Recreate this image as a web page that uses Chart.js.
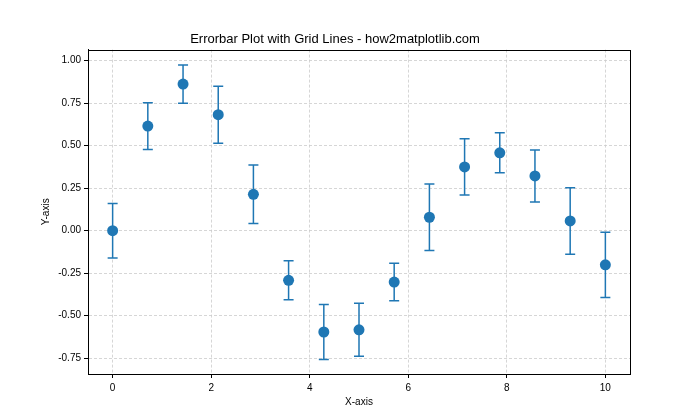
<!DOCTYPE html>
<html>
<head>
<meta charset="utf-8">
<script src="https://cdn.jsdelivr.net/npm/chart.js@4.4.1/dist/chart.umd.min.js"></script>
<style>
  html, body { margin: 0; padding: 0; background: #fff; }
  #wrap { width: 700px; height: 420px; }
</style>
</head>
<body>
<div id="wrap"><canvas id="c" width="700" height="420"></canvas></div>
<script>
// ---- data ----
const xValues = [0, 0.714, 1.429, 2.143, 2.857, 3.571, 4.286, 5.0, 5.714, 6.429, 7.143, 7.857, 8.571, 9.286, 10];
const yValues = [0.00, 0.615, 0.862, 0.682, 0.214, -0.292, -0.596, -0.583, -0.302, 0.079, 0.375, 0.458, 0.322, 0.057, -0.201];
const yErrors = [0.160, 0.138, 0.112, 0.168, 0.172, 0.115, 0.162, 0.156, 0.110, 0.196, 0.165, 0.118, 0.153, 0.195, 0.192];
const xTicks = [0, 2, 4, 6, 8, 10];
const yTicks = [-0.75, -0.50, -0.25, 0.00, 0.25, 0.50, 0.75, 1.00];

const BLUE = '#1f77b4';
const FONT = 'Liberation Sans';

const errorBarPlugin = {
  id: 'errorBars',
  beforeDatasetsDraw(chart) {
    const ctx = chart.ctx;
    const xs = chart.scales.x, ys = chart.scales.y;
    ctx.save();
    ctx.strokeStyle = BLUE;
    ctx.lineWidth = 1.5;
    xValues.forEach((xv, i) => {
      const px = xs.getPixelForValue(xv);
      const top = ys.getPixelForValue(yValues[i] + yErrors[i]);
      const bot = ys.getPixelForValue(yValues[i] - yErrors[i]);
      ctx.beginPath();
      ctx.moveTo(px, top); ctx.lineTo(px, bot);
      ctx.moveTo(px - 5, top); ctx.lineTo(px + 5, top);
      ctx.moveTo(px - 5, bot); ctx.lineTo(px + 5, bot);
      ctx.stroke();
    });
    ctx.restore();
  }
};

const framePlugin = {
  id: 'frame',
  afterDraw(chart) {
    const a = chart.chartArea, ctx = chart.ctx;
    ctx.save();
    ctx.strokeStyle = '#000';
    ctx.lineWidth = 1;
    ctx.strokeRect(Math.round(a.left) + 0.5, Math.round(a.top) + 0.5, Math.round(a.right - a.left), Math.round(a.bottom - a.top));
    ctx.restore();
  }
};

new Chart(document.getElementById('c'), {
  type: 'scatter',
  data: {
    datasets: [{
      data: xValues.map((x, i) => ({ x: x, y: yValues[i] })),
      backgroundColor: BLUE,
      borderColor: BLUE,
      pointRadius: 5.5,
      pointHoverRadius: 5.5,
      borderWidth: 0
    }]
  },
  options: {
    responsive: false,
    animation: false,
    layout: { padding: { left: 40, right: 70, top: 0, bottom: 12 } },
    plugins: {
      legend: { display: false },
      tooltip: { enabled: false },
      title: {
        display: true,
        text: 'Errorbar Plot with Grid Lines - how2matplotlib.com',
        color: '#000',
        font: { family: FONT, size: 13, weight: 'normal' },
        padding: { top: 32, bottom: 2 }
      }
    },
    scales: {
      x: {
        type: 'linear',
        min: -0.5,
        max: 10.5,
        afterBuildTicks: s => { s.ticks = xTicks.map(v => ({ value: v })); },
        afterFit: s => { s.height = 34; },
        ticks: { color: '#000', font: { family: FONT, size: 10 }, padding: 4, callback: v => String(v) },
        grid: { color: '#cbcbcb', lineWidth: 0.8, tickColor: '#000', tickLength: 4, tickWidth: 1 },
        border: { display: true, color: '#000', width: 1, dash: [3, 2] },
        title: { display: true, text: 'X-axis', color: '#000', font: { family: FONT, size: 10 }, padding: { top: 2, bottom: 0 } }
      },
      y: {
        type: 'linear',
        min: -0.843,
        max: 1.065,
        afterBuildTicks: s => { s.ticks = yTicks.map(v => ({ value: v })); },
        afterFit: s => { s.width = 48; },
        ticks: { color: '#000', font: { family: FONT, size: 10 }, padding: 3, callback: v => v.toFixed(2) },
        grid: { color: '#cbcbcb', lineWidth: 0.8, tickColor: '#000', tickLength: 4, tickWidth: 1 },
        border: { display: true, color: '#000', width: 1, dash: [3, 2] },
        title: { display: true, text: 'Y-axis', color: '#000', font: { family: FONT, size: 10 }, padding: { top: 0, bottom: 0 } }
      }
    }
  },
  plugins: [errorBarPlugin, framePlugin]
});
</script>
</body>
</html>
